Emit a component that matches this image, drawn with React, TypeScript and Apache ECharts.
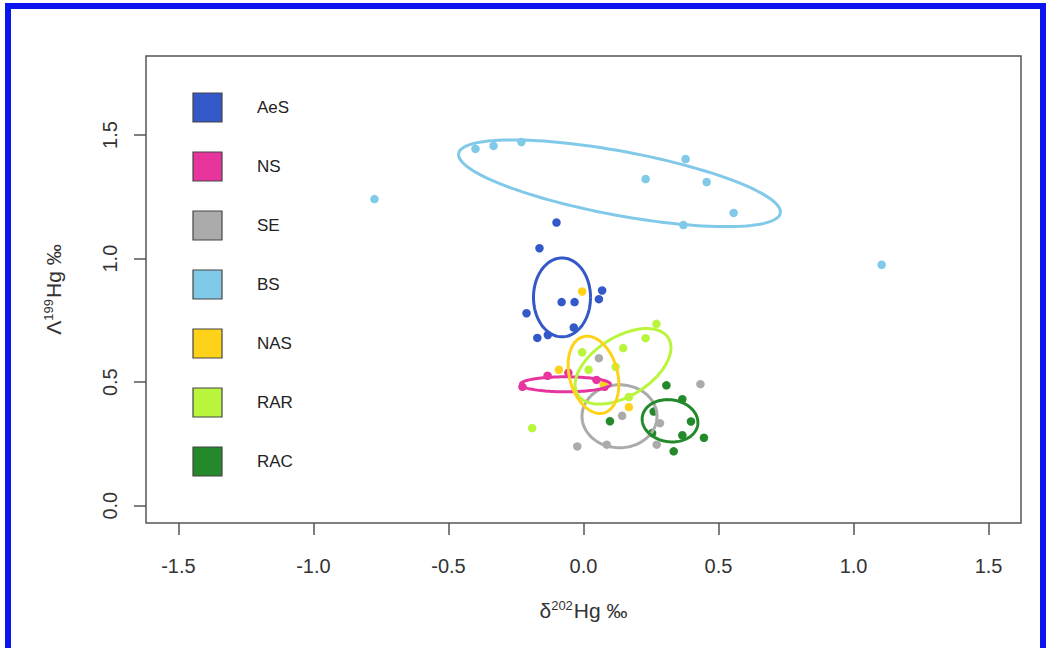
import React, { useEffect, useRef } from "react";
import * as echarts from "echarts";

const groups = ["AeS", "NS", "SE", "BS", "NAS", "RAR", "RAC"];
const colors = ["#3358c8", "#e8359e", "#ababab", "#80c9e8", "#ffd21a", "#b9f53c", "#23892a"];

const aesX = [-0.1, -0.163, 0.069, 0.057, -0.081, -0.033, -0.211, -0.036, -0.132, -0.171];
const aesY = [1.146, 1.042, 0.871, 0.836, 0.824, 0.824, 0.779, 0.721, 0.691, 0.679];
const nsX = [-0.226, -0.133, -0.056, 0.048, 0.078];
const nsY = [0.481, 0.526, 0.538, 0.509, 0.481];
const seX = [0.057, 0.433, 0.143, 0.283, -0.023, 0.086, 0.271];
const seY = [0.597, 0.492, 0.364, 0.334, 0.24, 0.247, 0.247];
const bsX = [-0.4, -0.333, -0.23, 0.378, 0.23, 0.456, 0.556, 0.37, -0.774, 1.104];
const bsY = [1.444, 1.456, 1.472, 1.403, 1.322, 1.31, 1.185, 1.136, 1.241, 0.975];
const nasX = [-0.005, -0.091, 0.168, 0.075];
const nasY = [0.867, 0.55, 0.399, 0.489];
const rarX = [0.27, 0.23, 0.147, -0.005, 0.019, 0.119, 0.168, -0.19];
const rarY = [0.736, 0.678, 0.638, 0.621, 0.55, 0.562, 0.44, 0.314];
const racX = [0.307, 0.366, 0.098, 0.26, 0.398, 0.254, 0.366, 0.446, 0.334];
const racY = [0.487, 0.431, 0.342, 0.381, 0.341, 0.294, 0.285, 0.275, 0.22];

const pointsX = [aesX, nsX, seX, bsX, nasX, rarX, racX];
const pointsY = [aesY, nsY, seY, bsY, nasY, rarY, racY];

// ellipse parameters per group (centre and two conjugate semi-axis vectors, data units)
const ellCX = [-0.0796, -0.0667, 0.1333, 0.1333, 0.037, 0.1463, 0.3204];
const ellCY = [0.8431, 0.4913, 0.3619, 1.3049, 0.5297, 0.5641, 0.3437];
const ellAX = [0.1056, 0.1667, 0.1389, 0.5956, 0.038, 0.1678, 0.1026];
const ellAY = [0, 0, 0, -0.1209, -0.1543, 0.1148, -0.0162];
const ellBX = [0, 0, 0, -0.0217, 0.0859, 0.058, -0.0111];
const ellBY = [-0.1597, -0.0303, -0.1274, -0.1272, 0.0252, -0.101, -0.0841];
const ellOrder = [2, 1, 0, 3, 5, 4, 6];

const xTicks = [-1.5, -1.0, -0.5, 0.0, 0.5, 1.0, 1.5];
const yTicks = [0.0, 0.5, 1.0, 1.5];

const FONT = "'Liberation Sans', Arial, Helvetica, sans-serif";

export default function App() {
  const ref = useRef<HTMLDivElement>(null);
  useEffect(() => {
    if (!ref.current) return;
    const chart = echarts.init(ref.current, undefined, { renderer: "svg" });

    const scatterSeries = groups.map((g, i) => ({
      type: "scatter",
      name: g,
      symbol: "circle",
      symbolSize: 8.5,
      z: 3,
      itemStyle: { color: colors[i], opacity: 1 },
      data: pointsX[i].map((x, j) => [x, pointsY[i][j]]),
    }));

    const ellipseSeries = ellOrder.map((i) => ({
      type: "custom",
      name: groups[i] + " ellipse",
      z: 4,
      encode: { x: 0, y: 1 },
      data: [[ellCX[i], ellCY[i], ellAX[i], ellAY[i], ellBX[i], ellBY[i]]],
      renderItem: (params: any, api: any) => {
        const cx = api.value(0), cy = api.value(1);
        const ax = api.value(2), ay = api.value(3), bx = api.value(4), by = api.value(5);
        const pts: number[][] = [];
        const n = 120;
        for (let k = 0; k <= n; k++) {
          const t = (k / n) * Math.PI * 2;
          pts.push(api.coord([cx + Math.cos(t) * ax + Math.sin(t) * bx, cy + Math.cos(t) * ay + Math.sin(t) * by]));
        }
        return {
          type: "polyline",
          shape: { points: pts },
          style: { stroke: colors[i], lineWidth: 3, fill: null },
        };
      },
    }));

    const legendItems: any[] = [];
    groups.forEach((g, i) => {
      const cy = 107.5 + i * 59;
      legendItems.push({
        type: "rect",
        shape: { x: 193, y: cy - 14.5, width: 29, height: 29 },
        style: { fill: colors[i], stroke: "#444", lineWidth: 1.2 },
      });
      legendItems.push({
        type: "text",
        x: 257,
        y: cy,
        style: { text: g, fill: "#222", font: `17px ${FONT}`, verticalAlign: "middle", align: "left" },
      });
    });

    const fmt = (v: number) => v.toFixed(1);

    chart.setOption({
      animation: false,
      backgroundColor: "#ffffff",
      grid: { left: 146, right: 27, top: 56, bottom: 125, show: true, borderColor: "#555", borderWidth: 1.5 },
      xAxis: {
        type: "value",
        min: -1.62,
        max: 1.62,
        splitLine: { show: false },
        axisLine: { show: false, onZero: false },
        axisTick: { show: true, inside: false, length: 12, customValues: xTicks, lineStyle: { color: "#555", width: 1.5 } },
        axisLabel: { customValues: xTicks, formatter: fmt, margin: 33, fontSize: 20, color: "#333", fontFamily: FONT },
        name: "{m|δ}{s|202}{m|Hg ‰}",
        nameLocation: "middle",
        nameGap: 76,
        nameTextStyle: {
          rich: {
            m: { fontSize: 21, color: "#333", fontFamily: FONT, verticalAlign: "bottom" },
            s: { fontSize: 13, color: "#333", fontFamily: FONT, verticalAlign: "bottom", padding: [0, 1, 9, 0] },
          },
        },
      },
      yAxis: {
        type: "value",
        min: -0.07,
        max: 1.82,
        splitLine: { show: false },
        axisLine: { show: false, onZero: false },
        axisTick: { show: true, inside: false, length: 12, customValues: yTicks, lineStyle: { color: "#555", width: 1.5 } },
        axisLabel: { customValues: yTicks, formatter: fmt, rotate: 90, margin: 26, fontSize: 20, color: "#333", fontFamily: FONT },
        name: "{m|Λ}{s|199}{m|Hg ‰}",
        nameLocation: "middle",
        nameRotate: 90,
        nameGap: 82,
        nameTextStyle: {
          rich: {
            m: { fontSize: 21, color: "#333", fontFamily: FONT, verticalAlign: "bottom" },
            s: { fontSize: 13, color: "#333", fontFamily: FONT, verticalAlign: "bottom", padding: [0, 1, 9, 0] },
          },
        },
      },
      graphic: [
        {
          type: "rect",
          silent: true,
          z: 100,
          shape: { x: 8, y: 6, width: 1035, height: 720 },
          style: { fill: null, stroke: "#0a14ee", lineWidth: 6 },
        },
        ...legendItems,
      ],
      series: [...scatterSeries, ...ellipseSeries],
    });
    return () => chart.dispose();
  }, []);
  return (
    <div
      ref={ref}
      style={{ position: "fixed", left: 0, top: 0, width: 1048, height: 648, background: "#fff" }}
    />
  );
}
